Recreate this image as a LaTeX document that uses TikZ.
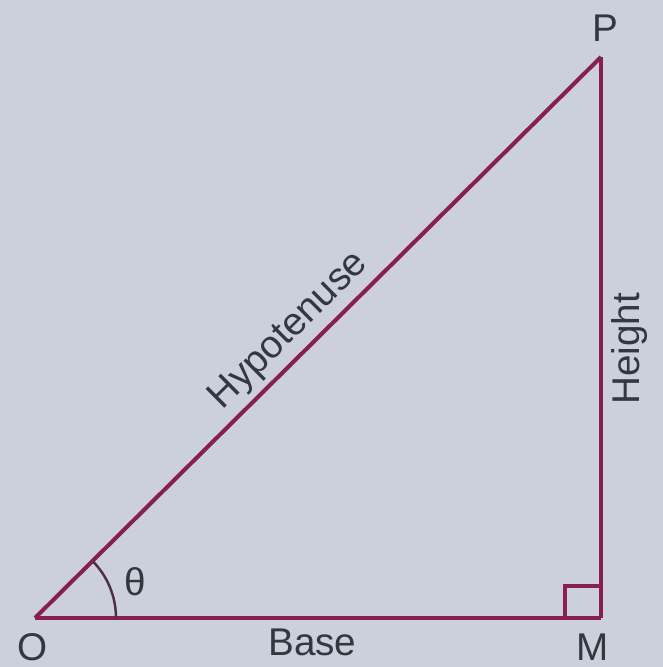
\documentclass[tikz,border=0pt]{standalone}
\usepackage{fontspec}
\setmainfont{Liberation Sans}
\definecolor{paper}{RGB}{203,208,220}
\definecolor{edge}{RGB}{135,32,78}
\definecolor{ink}{RGB}{52,55,62}
\tikzset{
    side/.style={edge, line width=2.3pt, line join=miter},
    lbl/.style={ink, font=\fontsize{22}{26}\selectfont, inner sep=3pt},
}
\begin{document}
\begin{tikzpicture}[x=0.02cm, y=0.02cm]
    % Page
    \fill[paper] (0,0) rectangle (663,667);
    \useasboundingbox (0,0) rectangle (663,667);

    % Vertices
    \coordinate (O) at (35,49);
    \coordinate (M) at (601,49);
    \coordinate (P) at (601,610);

    % Sides
    \draw[side] (O) -- node[lbl, pos=0.49, below=2pt] {Base} (M);
    \draw[side] (M) -- node[lbl, pos=0.48, below=2pt, sloped] {Height} (P);
    \draw[side] (O) -- node[lbl, pos=0.48, above=0pt, sloped] {Hypotenuse} (P);

    % Right angle and angle mark
    \draw[edge, line width=1.8pt] (M) ++(-36,0) -- ++(0,32) -- ++(36,0);
    \draw[ink!70!edge, line width=1.4pt] (O) ++(81,0) arc[start angle=0, end angle=44.7, radius=1.62cm];
    \node[lbl] (theta) at (135,85) {θ};

    % Vertex labels
    \node[lbl] (labO) at (33,20) {O};
    \node[lbl] (labM) at (593,20) {M};
    \node[lbl] (labP) at (605,639) {P};
\end{tikzpicture}
\end{document}
